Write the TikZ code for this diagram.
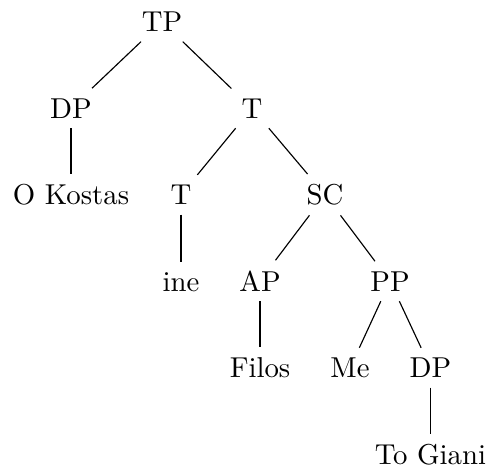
\documentclass[tikz,border=0pt]{standalone}
\usepackage{tikz}

\begin{document}
\begin{tikzpicture}[every node/.style={anchor=base}]

    % Moldura
    \useasboundingbox (0,0) rectangle (5.961,-5.705);

    % Alturas das linhas de base
    \def\ya{-0.385}
    \def\yb{-1.442}
    \def\yc{-2.498}
    \def\yd{-3.555}
    \def\ye{-4.612}
    \def\yf{-5.668}

    % Nos
    \node (tp)    at (1.979,\ya) {TP};
    \node (dp)    at (0.867,\yb) {DP};
    \node (tb)    at (3.078,\yb) {T};
    \node (kost)  at (0.867,\yc) {O Kostas};
    \node (tc)    at (2.211,\yc) {T};
    \node (sc)    at (3.970,\yc) {SC};
    \node (ine)   at (2.211,\yd) {ine};
    \node (ap)    at (3.176,\yd) {AP};
    \node (pp)    at (4.764,\yd) {PP};
    \node (filos) at (3.176,\ye) {Filos};
    \node (me)    at (4.276,\ye) {Me};
    \node (dpb)   at (5.258,\ye) {DP};
    \node (giani) at (5.258,\yf) {To Giani};

    % Ramos
    \draw (tp) -- (dp);
    \draw (tp) -- (tb);
    \draw (dp) -- (kost);
    \draw (tb) -- (tc);
    \draw (tb) -- (sc);
    \draw (tc) -- (ine);
    \draw (sc) -- (ap);
    \draw (sc) -- (pp);
    \draw (ap) -- (filos);
    \draw (pp) -- (me);
    \draw (pp) -- (dpb);
    \draw (dpb) -- (giani);

\end{tikzpicture}
\end{document}
